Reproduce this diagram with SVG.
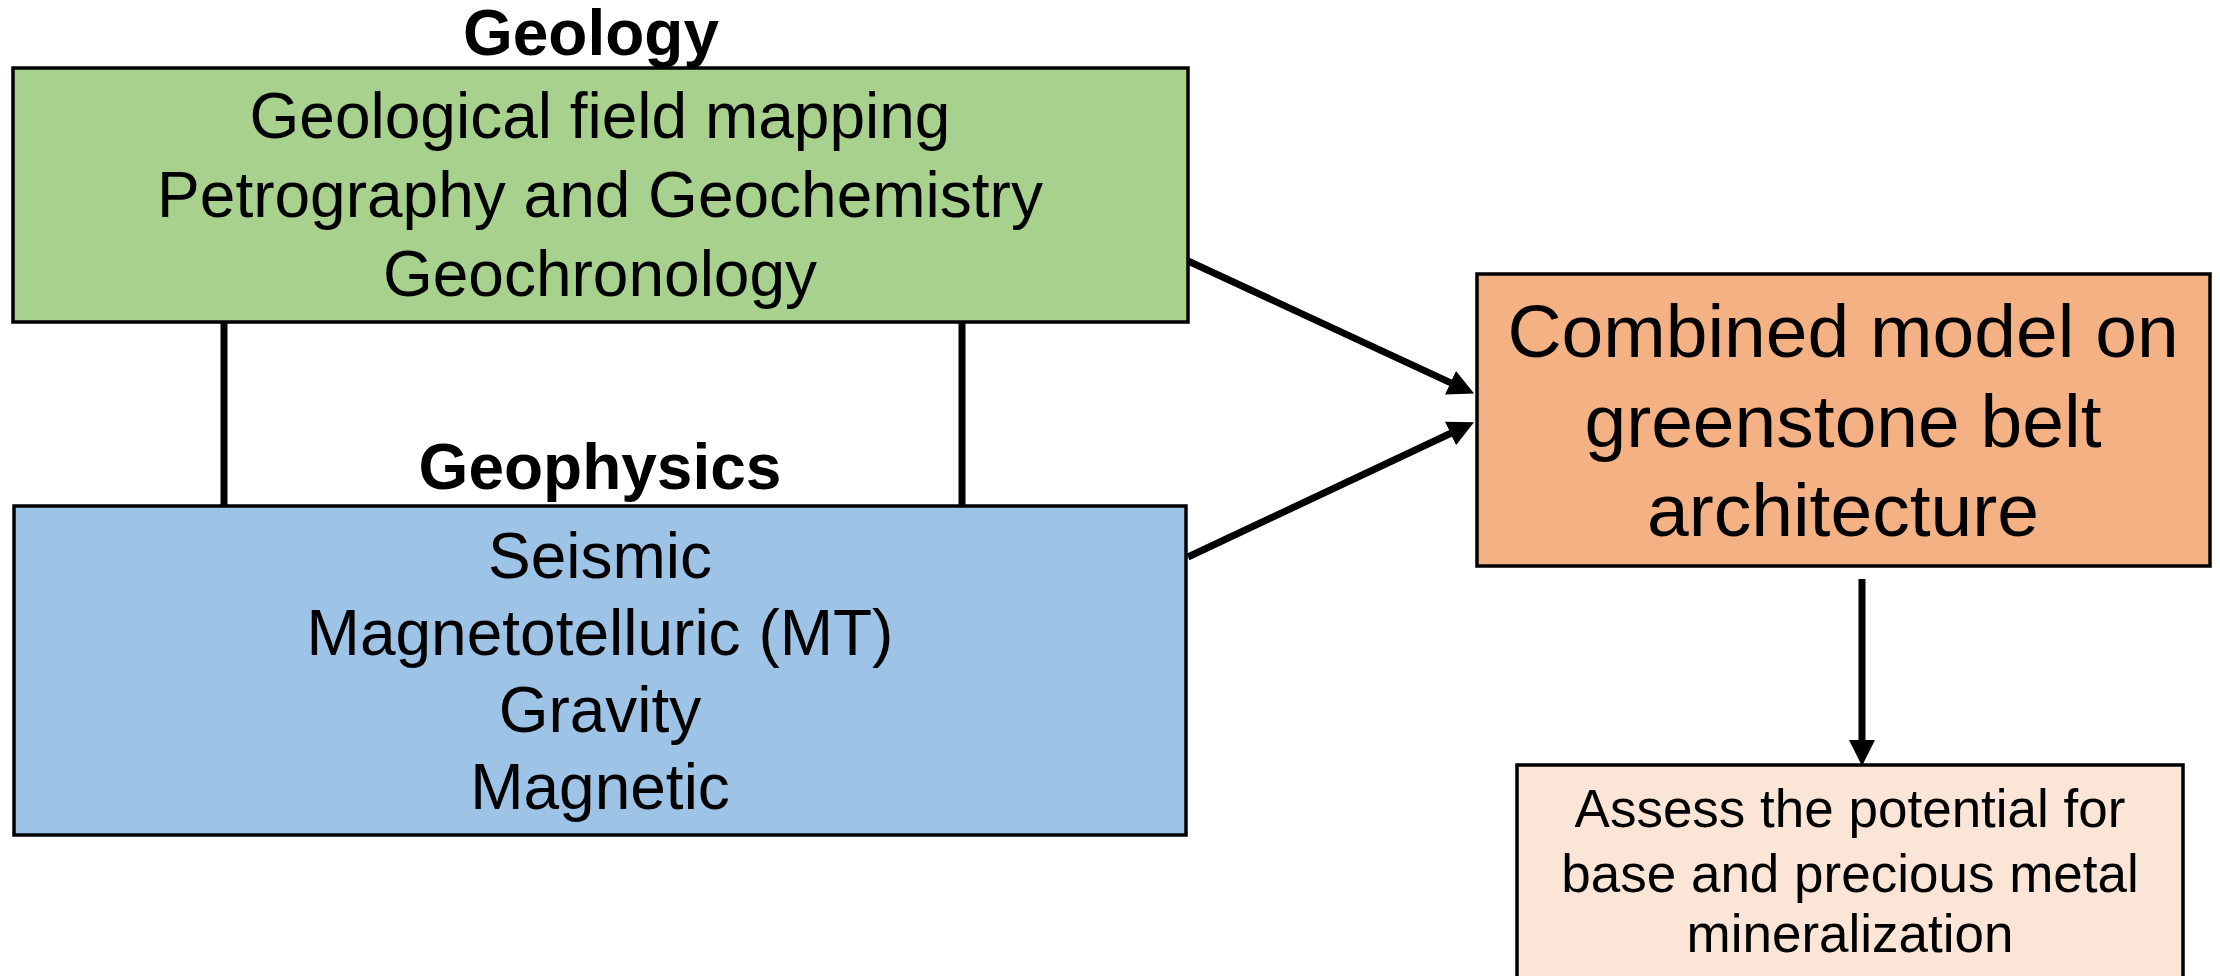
<svg xmlns="http://www.w3.org/2000/svg" width="2220" height="976" viewBox="0 0 2220 976">
<style>
  .box { stroke: #000; stroke-width: 3.5; }
  .t { font-family: "Liberation Sans", Arial, sans-serif; fill: #000; text-anchor: middle; }
  .h { font-family: "Liberation Sans", Arial, sans-serif; font-weight: bold; fill: #000; text-anchor: middle; font-size: 64px; }
  .conn { stroke: #000; stroke-width: 7; fill: none; }
</style>
<defs>
  <marker id="ah" viewBox="0 0 26 26" markerWidth="26" markerHeight="26" refX="1" refY="13" orient="auto" markerUnits="userSpaceOnUse">
    <path d="M0,0 L26,13 L0,26 z" fill="#000"/>
  </marker>
</defs>
<rect width="2220" height="976" fill="#fff"/>

<g id="connectors">
  <line class="conn" x1="224" y1="322" x2="224" y2="506"/>
  <line class="conn" x1="962" y1="322" x2="962" y2="506"/>
  <line class="conn" x1="1188" y1="261" x2="1451.4" y2="383.1" marker-end="url(#ah)"/>
  <line class="conn" x1="1188" y1="557" x2="1451.4" y2="433" marker-end="url(#ah)"/>
  <line class="conn" x1="1862" y1="579" x2="1862" y2="741" marker-end="url(#ah)"/>
</g>

<g id="geology">
  <text class="h" x="591" y="55">Geology</text>
  <rect class="box" x="13" y="68" width="1175" height="254" fill="#A9D18E"/>
  <text class="t" font-size="64" x="600" y="138">Geological field mapping</text>
  <text class="t" font-size="64" x="600" y="217">Petrography and Geochemistry</text>
  <text class="t" font-size="64" x="600" y="296">Geochronology</text>
</g>

<g id="geophysics">
  <text class="h" x="600" y="489">Geophysics</text>
  <rect class="box" x="14" y="506" width="1172" height="329" fill="#9DC3E6"/>
  <text class="t" font-size="64" x="600" y="578">Seismic</text>
  <text class="t" font-size="64" x="600" y="655">Magnetotelluric (MT)</text>
  <text class="t" font-size="64" x="600" y="732">Gravity</text>
  <text class="t" font-size="64" x="600" y="809">Magnetic</text>
</g>

<g id="combined">
  <rect class="box" x="1477" y="274" width="733" height="292" fill="#F4B183"/>
  <text class="t" font-size="75" x="1843" y="357">Combined model on</text>
  <text class="t" font-size="75" x="1843" y="447">greenstone belt</text>
  <text class="t" font-size="75" x="1843" y="536">architecture</text>
</g>

<g id="assess">
  <rect class="box" x="1517" y="765" width="666" height="230" fill="#FBE5D6"/>
  <text class="t" font-size="53" x="1850" y="827">Assess the potential for</text>
  <text class="t" font-size="53" x="1850" y="892">base and precious metal</text>
  <text class="t" font-size="53" x="1850" y="952">mineralization</text>
</g>
</svg>
